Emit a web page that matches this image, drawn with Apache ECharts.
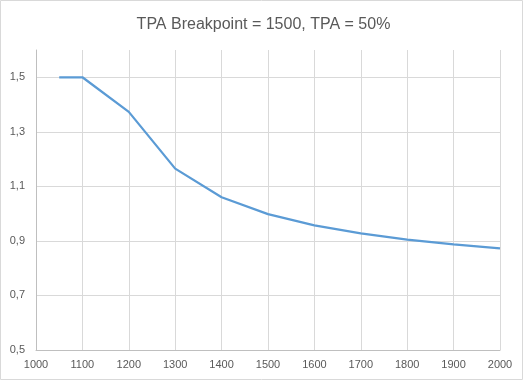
<!DOCTYPE html>
<html><head><meta charset="utf-8">
<script src="https://cdn.jsdelivr.net/npm/echarts@6/dist/echarts.min.js"></script>
<style>html,body{margin:0;padding:0;background:#fff}#c{width:527px;height:381px}</style>
</head><body><div id="c"></div>
<script>
var titleText = 'TPA Breakpoint = 1500, TPA = 50%';
var xValues = [1050, 1100, 1200, 1300, 1400, 1500, 1600, 1700, 1800, 1900, 2000];
var yValues = [1.5, 1.5, 1.373, 1.165, 1.06, 0.998, 0.957, 0.928, 0.905, 0.887, 0.873];
var data = xValues.map(function(x, i){ return [x, yValues[i]]; });
var chart = echarts.init(document.getElementById('c'), null, {renderer:'canvas'});
chart.setOption({
  animation:false,
  title:{text:titleText, left:'center', top:12, textStyle:{fontFamily:'Liberation Sans', fontSize:16, fontWeight:'normal', color:'#595959'}},
  graphic:[{type:'rect', shape:{x:0.5,y:0.5,width:522,height:379}, style:{fill:'none', stroke:'#d9d9d9', lineWidth:1}, silent:true}],
  grid:{left:36, right:27, top:50, bottom:31},
  xAxis:{type:'value', min:1000, max:2000, interval:100,
    axisLine:{lineStyle:{color:'#bfbfbf'}}, axisTick:{show:false},
    axisLabel:{color:'#595959', fontFamily:'Liberation Sans', fontSize:11, margin:9,
      formatter:function(v){ return String(v); }},
    splitLine:{show:true, lineStyle:{color:'#d9d9d9'}}},
  yAxis:{type:'value', min:0.5, max:1.6, interval:0.2,
    axisLine:{show:true, lineStyle:{color:'#bfbfbf'}}, axisTick:{show:false},
    axisLabel:{color:'#595959', fontFamily:'Liberation Sans', fontSize:11, margin:11, showMaxLabel:false,
      formatter:function(v){ return v.toFixed(1).replace('.', ','); }},
    splitLine:{show:true, lineStyle:{color:['#d9d9d9','#d9d9d9','#d9d9d9','#d9d9d9','#d9d9d9','#d9d9d9','rgba(0,0,0,0)']}}},
  series:[{type:'line', data:data, showSymbol:false, symbol:'none', lineStyle:{color:'#5b9bd5', width:2.25}, itemStyle:{color:'#5b9bd5'}}]
});
</script></body></html>
